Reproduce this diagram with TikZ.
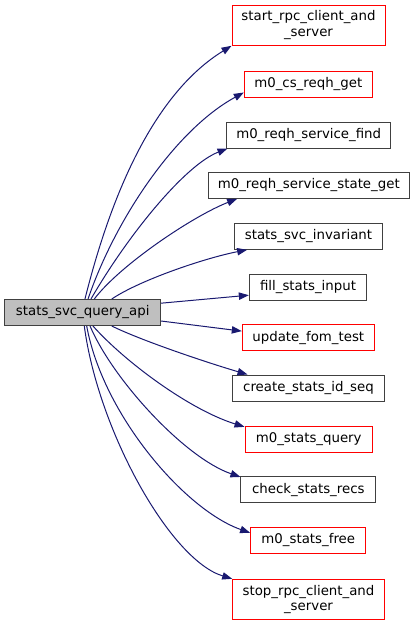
\documentclass[tikz,border=0pt]{standalone}
\usepackage{fontspec}
\setmainfont{DejaVu Sans}
\usetikzlibrary{arrows.meta}
\definecolor{edgeblue}{HTML}{191970}
\definecolor{boxgray}{HTML}{404040}
\definecolor{rootfill}{HTML}{BFBFBF}
\begin{document}
\begin{tikzpicture}[x=0.75pt,y=-0.75pt,
  fn/.style={draw=boxgray,line width=0.75pt,fill=white,inner sep=0pt,minimum height=19.5pt,font=\fontsize{10}{11.7}\selectfont,align=center},
  fnred/.style={fn,draw=red},
  tall/.style={minimum height=30pt},
  rootbox/.style={fn,fill=rootfill},
  call/.style={draw=edgeblue,line width=0.75pt,-{Triangle[length=7.5pt,width=5.5pt]}}]
\useasboundingbox (0,0) rectangle (415,625);
\node[rootbox,minimum width=117pt] (root) at (82.7,312.5) {stats\_svc\_query\_api};
\node[fnred,tall,minimum width=114.75pt] (n1) at (308.5,25.3) {start\_rpc\_client\_and\\\_server};
\node[fnred,minimum width=96pt] (n2) at (308.3,84.5) {m0\_cs\_reqh\_get};
\node[fn,minimum width=123pt] (n3) at (308.7,135) {m0\_reqh\_service\_find};
\node[fn,minimum width=150.75pt] (n4) at (308.8,185.3) {m0\_reqh\_service\_state\_get};
\node[fn,minimum width=111.3pt] (n5) at (308.5,236.3) {stats\_svc\_invariant};
\node[fn,minimum width=88pt] (n6) at (308,287.2) {fill\_stats\_input};
\node[fnred,minimum width=99pt] (n7) at (308.3,337.8) {update\_fom\_test};
\node[fn,minimum width=113.7pt] (n8) at (308.5,388) {create\_stats\_id\_seq};
\node[fnred,minimum width=95.5pt] (n9) at (308.7,439) {m0\_stats\_query};
\node[fn,minimum width=101pt] (n10) at (308.3,489.8) {check\_stats\_recs};
\node[fnred,minimum width=86.5pt] (n11) at (308.3,540.3) {m0\_stats\_free};
\node[fnred,tall,minimum width=113.7pt] (n12) at (308.5,599.3) {stop\_rpc\_client\_and\\\_server};

\draw[call] ([xshift=1.7pt]root.north) .. controls (112,191) and (155,93) .. (n1.south west);
\draw[call] ([xshift=4pt]root.north) .. controls (115,220) and (175,130) .. ([yshift=-6pt]n2.west);
\draw[call] ([xshift=6.2pt]root.north) .. controls (128,235) and (185,165) .. ([xshift=1pt]n3.south west);
\draw[call] ([xshift=8.7pt]root.north) .. controls (120,265) and (193,216) .. ([xshift=22pt]n4.south west);
\draw[call] ([xshift=21.8pt]root.north) .. controls (140,280) and (205,258) .. ([xshift=10pt]n5.south west);
\draw[call] ([yshift=7pt]root.east) -- ([yshift=-6pt]n6.west);
\draw[call] ([yshift=-6.4pt]root.east) -- ([yshift=5pt]n7.west);
\draw[call] ([xshift=21.8pt]root.south) .. controls (140,340) and (205,362) .. ([xshift=11.5pt]n8.north west);
\draw[call] ([xshift=7.7pt]root.south) .. controls (125,362) and (190,410) .. ([yshift=-1pt]n9.north west);
\draw[call] ([xshift=5.5pt]root.south) .. controls (113,380) and (185,458) .. ([yshift=-0.5pt]n10.north west);
\draw[call] ([xshift=3pt]root.south) .. controls (103,415) and (185,510) .. ([yshift=-4.5pt]n11.north west);
\draw[call] ([xshift=1.2pt]root.south) .. controls (98,430) and (170,560) .. (n12.north west);
\end{tikzpicture}
\end{document}
